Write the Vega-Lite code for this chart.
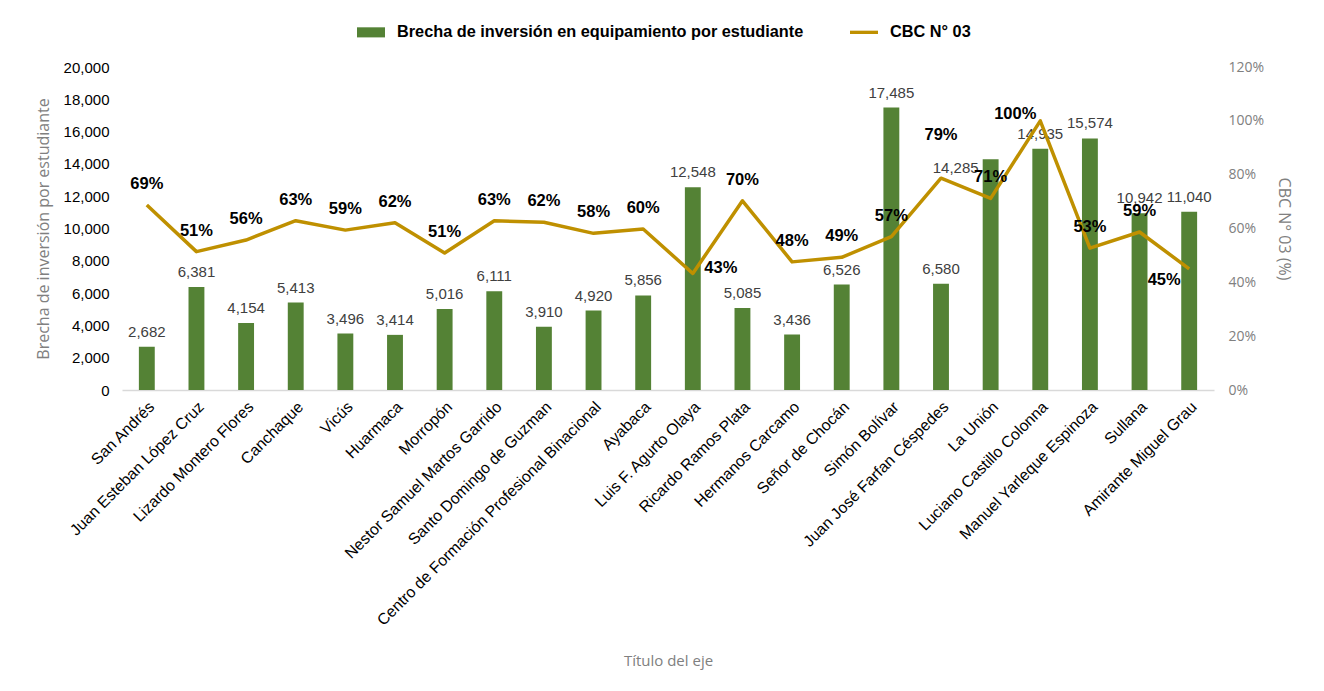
{
  "$schema": "https://vega.github.io/schema/vega-lite/v6.json",
  "width": 1092,
  "height": 323,
  "autosize": "none",
  "padding": {"left": 122, "top": 67, "right": 110, "bottom": 301},
  "background": "white",
  "data": {
    "values": [
      {"ie": "San Andrés", "brecha": 2682, "cbc": 0.687},
      {"ie": "Juan Esteban López Cruz", "brecha": 6381, "cbc": 0.514},
      {"ie": "Lizardo Montero Flores", "brecha": 4154, "cbc": 0.557},
      {"ie": "Canchaque", "brecha": 5413, "cbc": 0.629},
      {"ie": "Vicús", "brecha": 3496, "cbc": 0.594},
      {"ie": "Huarmaca", "brecha": 3414, "cbc": 0.621},
      {"ie": "Morropón", "brecha": 5016, "cbc": 0.509},
      {"ie": "Nestor Samuel Martos Garrido", "brecha": 6111, "cbc": 0.629},
      {"ie": "Santo Domingo de Guzman", "brecha": 3910, "cbc": 0.623},
      {"ie": "Centro de Formación Profesional Binacional", "brecha": 4920, "cbc": 0.582},
      {"ie": "Ayabaca", "brecha": 5856, "cbc": 0.598},
      {"ie": "Luis F. Agurto Olaya", "brecha": 12548, "cbc": 0.433},
      {"ie": "Ricardo Ramos Plata", "brecha": 5085, "cbc": 0.703},
      {"ie": "Hermanos Carcamo", "brecha": 3436, "cbc": 0.476},
      {"ie": "Señor de Chocán", "brecha": 6526, "cbc": 0.493},
      {"ie": "Simón Bolívar", "brecha": 17485, "cbc": 0.570},
      {"ie": "Juan José Farfan Céspedes", "brecha": 6580, "cbc": 0.787},
      {"ie": "La Unión", "brecha": 14285, "cbc": 0.712},
      {"ie": "Luciano Castillo Colonna", "brecha": 14935, "cbc": 1.0},
      {"ie": "Manuel Yarleque Espinoza", "brecha": 15574, "cbc": 0.527},
      {"ie": "Sullana", "brecha": 10942, "cbc": 0.587},
      {"ie": "Amirante Miguel Grau", "brecha": 11040, "cbc": 0.450}
    ]
  },
  "encoding": {
    "x": {
      "field": "ie",
      "type": "nominal",
      "sort": null,
      "scale": {"paddingInner": 0.68, "paddingOuter": 0.34},
      "axis": {
        "title": "Título del eje",
        "titleFont": "Open Sans",
        "titleFontSize": 15,
        "titleFontWeight": "normal",
        "titleColor": "#808080",
        "titlePadding": 63,
        "labelAngle": -45,
        "labelFont": "Liberation Sans",
        "labelFontSize": 15.8,
        "labelColor": "#000000",
        "labelPadding": 9,
        "labelLimit": 400,
        "ticks": false,
        "domainColor": "#D9D9D9",
        "domainWidth": 1.5,
        "grid": false
      }
    }
  },
  "layer": [
    {
      "encoding": {
        "y": {
          "field": "brecha",
          "type": "quantitative",
          "scale": {"domain": [0, 20000], "nice": false},
          "axis": {
            "title": "Brecha de inversión por estudiante",
            "titleFont": "Open Sans",
            "titleFontSize": 16,
            "titleFontWeight": "normal",
            "titleColor": "#808080",
            "titlePadding": 12,
            "values": [0, 2000, 4000, 6000, 8000, 10000, 12000, 14000, 16000, 18000, 20000],
            "format": ",.0f",
            "labelFont": "Liberation Sans",
            "labelFontSize": 15,
            "labelColor": "#000000",
            "labelPadding": 13,
            "ticks": false,
            "domain": false,
            "grid": false
          }
        }
      },
      "layer": [
        {
          "mark": {"type": "bar"},
          "encoding": {
            "color": {
              "datum": "Brecha de inversión en equipamiento por estudiante",
              "scale": {
                "domain": ["Brecha de inversión en equipamiento por estudiante", "CBC N° 03"],
                "range": ["#548235", "#BF9000"]
              },
              "legend": {
                "orient": "none",
                "legendX": 235,
                "legendY": -49,
                "direction": "horizontal",
                "title": null,
                "symbolSize": 784,
                "labelFont": "Liberation Sans",
                "labelFontSize": 16.3,
                "labelFontWeight": "bold",
                "labelColor": "#000000",
                "labelOffset": 12,
                "columnPadding": 46,
                "labelLimit": 600,
                "encode": {
                  "symbols": {
                    "update": {
                      "shape": {"signal": "datum.value === 'CBC N° 03' ? 'M-1,-0.12H1V0.12H-1Z' : 'M-1,-0.36H1V0.36H-1Z'"},
                      "fill": {"signal": "datum.value === 'CBC N° 03' ? '#BF9000' : '#548235'"},
                      "stroke": {"value": "transparent"},
                      "strokeWidth": {"value": 0},
                      "opacity": {"value": 1}
                    }
                  }
                }
              }
            }
          }
        },
        {
          "transform": [{"filter": "datum.ie !== 'La Unión'"}],
          "mark": {"type": "text", "baseline": "middle", "dy": -15, "font": "Liberation Sans", "fontSize": 15, "color": "#404040"},
          "encoding": {"text": {"field": "brecha", "type": "quantitative", "format": ",.0f"}}
        },
        {
          "transform": [{"filter": "datum.ie === 'La Unión'"}],
          "mark": {"type": "text", "baseline": "middle", "dx": -35, "dy": 9, "font": "Liberation Sans", "fontSize": 15, "color": "#404040"},
          "encoding": {"text": {"field": "brecha", "type": "quantitative", "format": ",.0f"}}
        }
      ]
    },
    {
      "encoding": {
        "y": {
          "field": "cbc",
          "type": "quantitative",
          "scale": {"domain": [0, 1.2], "nice": false},
          "axis": {
            "orient": "right",
            "title": "CBC N° 03 (%)",
            "titleFont": "Open Sans",
            "titleFontSize": 16,
            "titleFontWeight": "normal",
            "titleColor": "#808080",
            "titlePadding": 12,
            "values": [0, 0.2, 0.4, 0.6, 0.8, 1.0, 1.2],
            "format": ".0%",
            "labelFont": "Open Sans",
            "labelFontSize": 14,
            "labelColor": "#808080",
            "labelPadding": 14,
            "ticks": false,
            "domain": false,
            "grid": false
          }
        }
      },
      "layer": [
        {
          "mark": {"type": "line", "strokeWidth": 3.5, "strokeJoin": "round"},
          "encoding": {"color": {"datum": "CBC N° 03"}}
        },
        {
          "transform": [{"filter": "indexof(['Luis F. Agurto Olaya','Luciano Castillo Colonna','Amirante Miguel Grau','Juan José Farfan Céspedes'], datum.ie) < 0"}],
          "mark": {"type": "text", "baseline": "middle", "dy": -21, "font": "Liberation Sans", "fontSize": 16.5, "fontWeight": "bold", "color": "#000000"},
          "encoding": {"text": {"field": "cbc", "type": "quantitative", "format": ".0%"}}
        },
        {
          "transform": [{"filter": "datum.ie === 'Juan José Farfan Céspedes'"}],
          "mark": {"type": "text", "baseline": "middle", "dy": -43, "font": "Liberation Sans", "fontSize": 16.5, "fontWeight": "bold", "color": "#000000"},
          "encoding": {"text": {"field": "cbc", "type": "quantitative", "format": ".0%"}}
        },
        {
          "transform": [{"filter": "datum.ie === 'Luis F. Agurto Olaya'"}],
          "mark": {"type": "text", "baseline": "middle", "dx": 28, "dy": -5, "font": "Liberation Sans", "fontSize": 16.5, "fontWeight": "bold", "color": "#000000"},
          "encoding": {"text": {"field": "cbc", "type": "quantitative", "format": ".0%"}}
        },
        {
          "transform": [{"filter": "datum.ie === 'Luciano Castillo Colonna'"}],
          "mark": {"type": "text", "baseline": "middle", "dx": -25, "dy": -7, "font": "Liberation Sans", "fontSize": 16.5, "fontWeight": "bold", "color": "#000000"},
          "encoding": {"text": {"field": "cbc", "type": "quantitative", "format": ".0%"}}
        },
        {
          "transform": [{"filter": "datum.ie === 'Amirante Miguel Grau'"}],
          "mark": {"type": "text", "baseline": "middle", "dx": -25, "dy": 11, "font": "Liberation Sans", "fontSize": 16.5, "fontWeight": "bold", "color": "#000000"},
          "encoding": {"text": {"field": "cbc", "type": "quantitative", "format": ".0%"}}
        }
      ]
    }
  ],
  "resolve": {"scale": {"y": "independent"}},
  "config": {"view": {"stroke": null}}
}
